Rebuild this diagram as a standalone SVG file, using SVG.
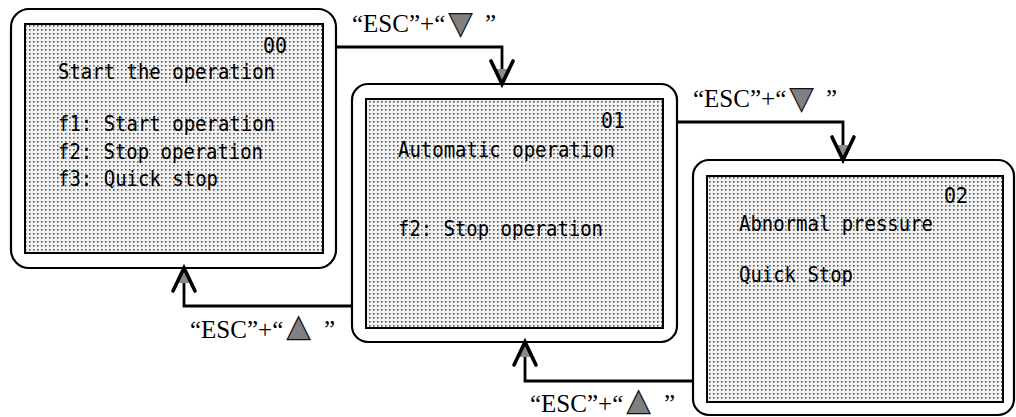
<svg xmlns="http://www.w3.org/2000/svg" width="1016" height="417" viewBox="0 0 1016 417">
  <defs>
    <style>
      .frame { fill: #ffffff; stroke: #000000; stroke-width: 2.2; }
      .screen { fill: url(#dots); stroke: #000000; stroke-width: 2; }
      .mono { font-family: "DejaVu Sans Mono", "Liberation Mono", monospace; font-size: 20.5px; fill: #000000; }
      .lbl { font-family: "Liberation Serif", "Times New Roman", serif; font-size: 25px; fill: #000000; }
      .tri { font-family: "DejaVu Sans", sans-serif; font-size: 30px; fill: #808080; stroke: #111111; stroke-width: 1.2; }
      .wire { fill: none; stroke: #000000; stroke-width: 2.8; marker-end: url(#arr); }
    </style>
    <!-- halftone screen used inside each display panel -->
    <pattern id="dots" width="4" height="4" patternUnits="userSpaceOnUse">
      <rect width="4" height="4" fill="#f2f2f2"/>
      <rect x="1" y="1" width="1.6" height="1.6" fill="#555555"/>
    </pattern>
    <!-- open V arrowhead with shaded tip -->
    <marker id="arr" markerUnits="userSpaceOnUse" viewBox="-26 -14 28 28" refX="0" refY="0" markerWidth="28" markerHeight="28" orient="auto" overflow="visible">
      <path d="M0,0 L-15,-6 L-15,6 Z" fill="#8a8a8a"/>
      <path d="M-23,-11 L0,0 L-23,11" fill="none" stroke="#000000" stroke-width="3.6" stroke-linecap="round"/>
    </marker>
  </defs>

  <rect width="1016" height="417" fill="#ffffff"/>

  <!-- state 00 -->
  <g id="screen-00">
    <rect class="frame" x="11" y="9" width="325" height="259" rx="18"/>
    <rect class="screen" x="25" y="24" width="298" height="229"/>
    <text class="mono" x="287" y="53" text-anchor="end" textLength="24" lengthAdjust="spacingAndGlyphs">00</text>
    <text class="mono" x="58" y="79" textLength="217" lengthAdjust="spacingAndGlyphs">Start the operation</text>
    <text class="mono" x="58" y="131" textLength="217" lengthAdjust="spacingAndGlyphs">f1: Start operation</text>
    <text class="mono" x="58" y="159" textLength="205" lengthAdjust="spacingAndGlyphs">f2: Stop operation</text>
    <text class="mono" x="58" y="186" textLength="160" lengthAdjust="spacingAndGlyphs">f3: Quick stop</text>
  </g>

  <!-- state 01 -->
  <g id="screen-01">
    <rect class="frame" x="352" y="84" width="325" height="258" rx="16"/>
    <rect class="screen" x="366" y="99" width="297" height="229"/>
    <text class="mono" x="625" y="128" text-anchor="end" textLength="24" lengthAdjust="spacingAndGlyphs">01</text>
    <text class="mono" x="398" y="157" textLength="217" lengthAdjust="spacingAndGlyphs">Automatic operation</text>
    <text class="mono" x="398" y="236" textLength="205" lengthAdjust="spacingAndGlyphs">f2: Stop operation</text>
  </g>

  <!-- state 02 -->
  <g id="screen-02">
    <rect class="frame" x="693" y="160" width="321" height="255" rx="16"/>
    <rect class="screen" x="707" y="176" width="296" height="226"/>
    <text class="mono" x="968" y="203" text-anchor="end" textLength="24" lengthAdjust="spacingAndGlyphs">02</text>
    <text class="mono" x="739" y="231" textLength="194" lengthAdjust="spacingAndGlyphs">Abnormal pressure</text>
    <text class="mono" x="739" y="282" textLength="114" lengthAdjust="spacingAndGlyphs">Quick Stop</text>
  </g>

  <!-- transitions -->
  <g id="connectors">
    <path class="wire" d="M335,47 H502 V84"/>
    <path class="wire" d="M677,122 H843 V160"/>
    <path class="wire" d="M352,306 H184 V268"/>
    <path class="wire" d="M693,381 H525 V342"/>

    <text class="lbl" x="352" y="32">“ESC”+“<tspan class="tri" x="449" y="33">▼</tspan><tspan x="485" y="32">”</tspan></text>
    <text class="lbl" x="693" y="107">“ESC”+“<tspan class="tri" x="790" y="108">▼</tspan><tspan x="826" y="107">”</tspan></text>
    <text class="lbl" x="190" y="338">“ESC”+“<tspan class="tri" x="287" y="336">▲</tspan><tspan x="324" y="338">”</tspan></text>
    <text class="lbl" x="530" y="412">“ESC”+“<tspan class="tri" x="627" y="410">▲</tspan><tspan x="664" y="412">”</tspan></text>
  </g>
</svg>
